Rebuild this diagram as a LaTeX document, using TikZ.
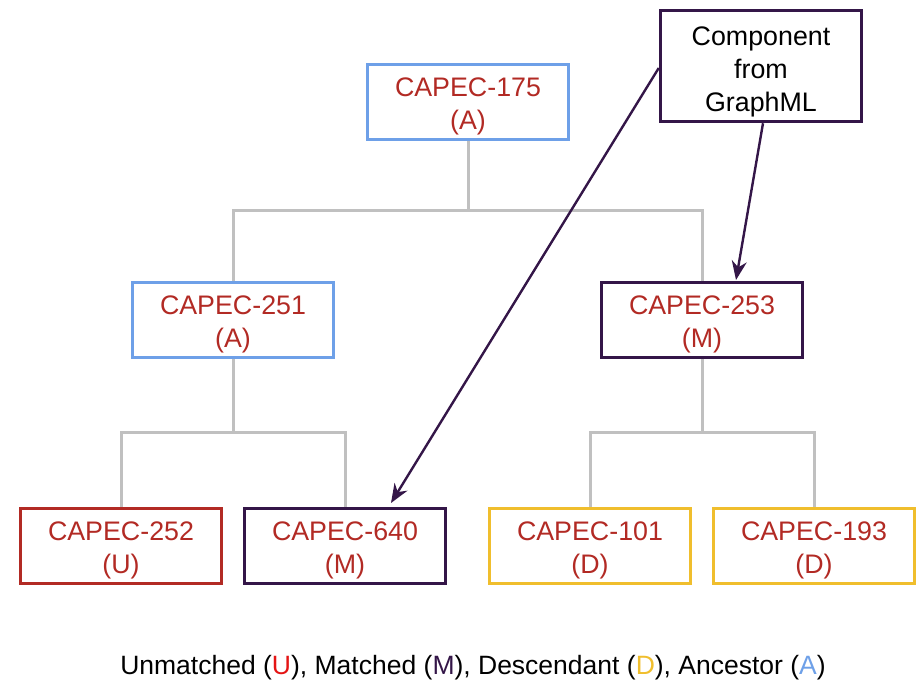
\documentclass[tikz,border=0pt]{standalone}
\usepackage{fontspec}
\setmainfont{Liberation Sans}
\usepackage{tikz}
\usetikzlibrary{arrows.meta}

\definecolor{capecred}{RGB}{178,42,36}
\definecolor{brightred}{RGB}{228,20,20}
\definecolor{matchpurple}{RGB}{52,22,72}
\definecolor{descyellow}{RGB}{240,190,45}
\definecolor{ancblue}{RGB}{110,160,232}
\definecolor{treegrey}{RGB}{192,192,192}

\begin{document}
\begin{tikzpicture}[x=1pt, y=-1pt,
    capec node/.style={rectangle, draw, line width=3.5pt, minimum width=201pt, minimum height=75pt,
        align=center, text=capecred, inner ysep=0pt, text height=61pt, text depth=6pt,
        font=\fontsize{26.8}{33}\selectfont},
    unmatched/.style={capec node, draw=capecred},
    matched/.style={capec node, draw=matchpurple},
    descendant/.style={capec node, draw=descyellow},
    ancestor/.style={capec node, draw=ancblue},
    tree line/.style={draw=treegrey, line width=3pt},
    pointer/.style={draw=matchpurple, line width=2.4pt, -{Stealth[length=19pt,width=15pt]}}]

    \useasboundingbox (0,0) rectangle (919,683);

    \node[ancestor] (c175) at (468,102) {CAPEC-175\\(A)};
    \node[ancestor] (c251) at (233,320) {CAPEC-251\\(A)};
    \node[matched] (c253) at (702,320) {CAPEC-253\\(M)};
    \node[unmatched] (c252) at (121,546) {CAPEC-252\\(U)};
    \node[matched] (c640) at (345,546) {CAPEC-640\\(M)};
    \node[descendant] (c101) at (590,546) {CAPEC-101\\(D)};
    \node[descendant] (c193) at (814,546) {CAPEC-193\\(D)};

    \node[capec node, draw=matchpurple, text=black, minimum height=111pt, text height=96pt]
        (graphml) at (761,66) {Component\\from\\GraphML};

    % tree
    \coordinate (j175) at (468,210);
    \coordinate (j251) at (233,432);
    \coordinate (j253) at (702,432);
    \draw[tree line] (c175.south) -- (j175);
    \draw[tree line] (c251.north) |- (j175) -| (c253.north);
    \draw[tree line] (c251.south) -- (j251);
    \draw[tree line] (c252.north) |- (j251) -| (c640.north);
    \draw[tree line] (c253.south) -- (j253);
    \draw[tree line] (c101.north) |- (j253) -| (c193.north);

    % pointers from the GraphML component
    \coordinate (tip640) at (391,503);
    \coordinate (tip253) at (736,280);
    \draw[pointer] (graphml.west |- 0,68) -- (tip640);
    \draw[pointer] (graphml.south -| 763,0) -- (tip253);

    \node[font=\fontsize{26.5}{32}\selectfont] (legend) at (473,668)
        {Unmatched (\textcolor{brightred}{U}), Matched (\textcolor{matchpurple}{M}),
         Descendant (\textcolor{descyellow}{D}), Ancestor (\textcolor{ancblue}{A})};
\end{tikzpicture}
\end{document}
